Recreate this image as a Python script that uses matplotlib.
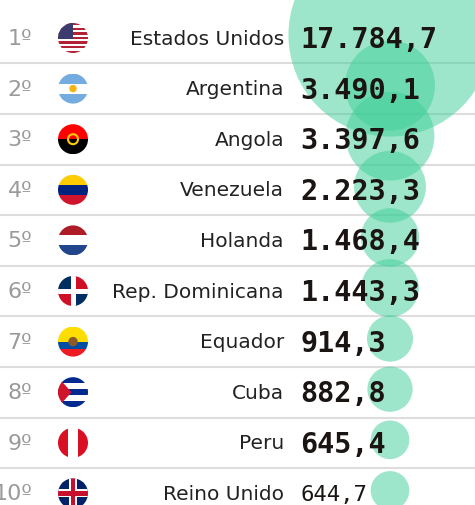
import matplotlib
matplotlib.use("Agg")
import matplotlib.pyplot as plt
from matplotlib.patches import Circle, Rectangle, Polygon
import numpy as np

ranks = ["1º","2º","3º","4º","5º","6º","7º","8º","9º","10º"]
countries = ["Estados Unidos","Argentina","Angola","Venezuela","Holanda",
             "Rep. Dominicana","Equador","Cuba","Peru","Reino Unido"]
values = [17784.7, 3490.1, 3397.6, 2223.3, 1468.4, 1443.3, 914.3, 882.8, 645.4, 644.7]
labels = ["17.784,7","3.490,1","3.397,6","2.223,3","1.468,4","1.443,3","914,3","882,8","645,4","644,7"]

W, H = 475, 506
fig = plt.figure(figsize=(W/100, H/100), dpi=100)
ax = fig.add_axes([0, 0, 1, 1])
ax.set_xlim(0, W); ax.set_ylim(H, 0); ax.axis("off")

row_h = 50.6
y0 = 39
fx, fr = 73, 15

def flag(i, yc):
    clip = Circle((fx, yc), fr, transform=ax.transData)
    L, T = fx - fr, yc - fr
    S = 2 * fr
    pats = []
    def rect(x, y, w, h, c):
        pats.append(Rectangle((x, y), w, h, color=c, lw=0))
    def poly(pts, c):
        pats.append(Polygon(pts, closed=True, color=c, lw=0))
    c = countries[i]
    if c == "Estados Unidos":
        for k in range(13):
            rect(L, T + k*S/13, S, S/13, "#b22234" if k % 2 == 0 else "white")
        rect(L, T, S*0.5, S*7/13, "#3c3b6e")
    elif c == "Argentina":
        rect(L, T, S, S/3, "#74acdf"); rect(L, T+S/3, S, S/3, "white"); rect(L, T+2*S/3, S, S/3, "#74acdf")
        pats.append(Circle((fx, yc), 3, color="#f6b40e"))
    elif c == "Angola":
        rect(L, T, S, S/2, "#ff0000"); rect(L, yc, S, S/2, "#000000")
        pats.append(Circle((fx, yc), 5, fill=False, ec="#ffcb00", lw=1.5))
    elif c == "Venezuela":
        rect(L, T, S, S/3, "#ffcc00"); rect(L, T+S/3, S, S/3, "#00247d"); rect(L, T+2*S/3, S, S/3, "#cf142b")
    elif c == "Holanda":
        rect(L, T, S, S/3, "#ae1c28"); rect(L, T+S/3, S, S/3, "white"); rect(L, T+2*S/3, S, S/3, "#21468b")
    elif c == "Rep. Dominicana":
        rect(L, T, S/2, S/2, "#002d62"); rect(fx, T, S/2, S/2, "#ce1126")
        rect(L, yc, S/2, S/2, "#ce1126"); rect(fx, yc, S/2, S/2, "#002d62")
        rect(fx-2.5, T, 5, S, "white"); rect(L, yc-2.5, S, 5, "white")
    elif c == "Equador":
        rect(L, T, S, S/2, "#ffdd00"); rect(L, yc, S, S/4, "#034ea2"); rect(L, yc+S/4, S, S/4, "#ed1c24")
        pats.append(Circle((fx, yc), 4, color="#8b5a2b"))
    elif c == "Cuba":
        for k in range(5):
            rect(L, T + k*S/5, S, S/5, "#002a8f" if k % 2 == 0 else "white")
        poly([(L, T), (L, T+S), (L+S*0.45, yc)], "#cf142b")
    elif c == "Peru":
        rect(L, T, S/3, S, "#d91023"); rect(L+S/3, T, S/3, S, "white"); rect(L+2*S/3, T, S/3, S, "#d91023")
    elif c == "Reino Unido":
        rect(L, T, S, S, "#012169")
        for a, b in [((L, T), (L+S, T+S)), ((L, T+S), (L+S, T))]:
            ax.plot([a[0], b[0]], [a[1], b[1]], color="white", lw=4, clip_path=clip, zorder=3)
            ax.plot([a[0], b[0]], [a[1], b[1]], color="#c8102e", lw=1.3, clip_path=clip, zorder=3)
        rect(fx-4, T, 8, S, "white"); rect(L, yc-4, S, 8, "white")
        rect(fx-2.2, T, 4.4, S, "#c8102e"); rect(L, yc-2.2, S, 4.4, "#c8102e")
    for p in pats:
        ax.add_patch(p)
        p.set_clip_path(clip)
        p.set_zorder(4 if isinstance(p, Circle) else 3)

# bubbles (area proportional to value)
k = 45 / np.sqrt(values[1])
for i, v in enumerate(values):
    yc = y0 + i * row_h
    r = k * np.sqrt(v)
    ax.add_patch(Circle((390, yc - 3), r, color="#3fcf99", alpha=0.5, lw=0, zorder=1))

for i in range(len(countries)):
    yc = y0 + i * row_h
    if i < len(countries) - 1:
        ax.plot([0, W], [yc + 25.3, yc + 25.3], color="#dddddd", lw=1.5, zorder=0.5)
    ax.text(32, yc, ranks[i], ha="right", va="center", fontsize=16, color="#9a9a9a", zorder=5)
    flag(i, yc)
    ax.text(284, yc, countries[i], ha="right", va="center", fontsize=14.5, color="#222222", zorder=5)
    last = i == len(countries) - 1
    ax.text(300, yc + 1, labels[i], ha="left", va="center", family="DejaVu Sans Mono",
            fontsize=20.5 if not last else 16, fontweight="normal" if last else "bold",
            color="#1a1412", zorder=5)

fig.savefig("out.png", dpi=100)
